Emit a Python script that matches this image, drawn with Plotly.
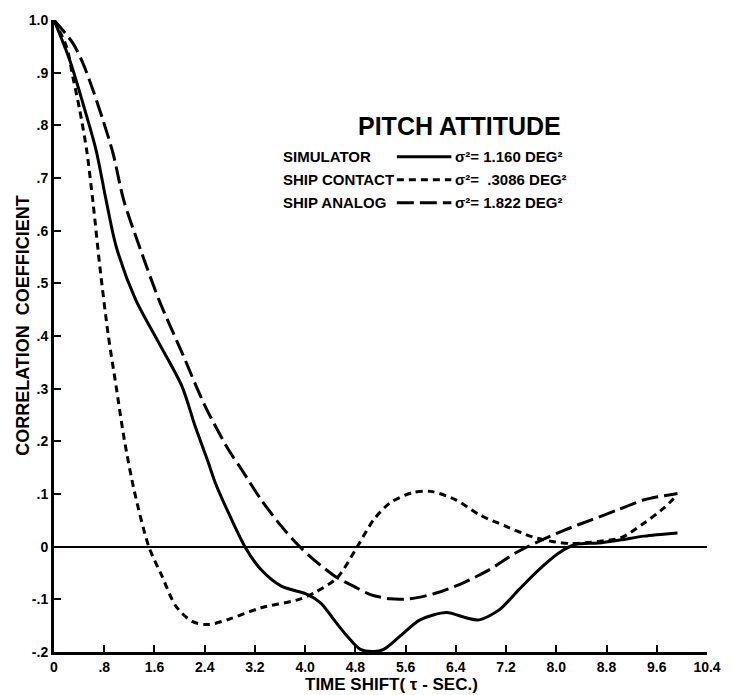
import plotly.graph_objects as go

# ---------------- data ----------------
sim_t = [0, 0.25, 0.46, 0.67, 0.83, 0.99, 1.30, 1.67, 2.04, 2.25, 2.46, 2.57, 2.78, 3.04,
         3.30, 3.62, 4.04, 4.25, 4.46, 4.67, 4.88, 5.09, 5.25, 5.51, 5.83, 6.25, 6.56,
         6.77, 7.09, 7.40, 7.72, 8.04, 8.30, 8.67, 9.03, 9.40, 9.93]
sim_r = [1.0, 0.924, 0.842, 0.753, 0.658, 0.57, 0.469, 0.387, 0.304, 0.228, 0.159, 0.121,
         0.064, 0.0, -0.044, -0.075, -0.091, -0.107, -0.139, -0.17, -0.195, -0.199, -0.195,
         -0.17, -0.139, -0.125, -0.135, -0.139, -0.12, -0.082, -0.044, -0.012, 0.004,
         0.007, 0.013, 0.02, 0.026]

con_t = [0, 0.20, 0.30, 0.41, 0.52, 0.62, 0.73, 0.86, 0.99, 1.12, 1.28, 1.51, 1.72, 1.94,
         2.2, 2.45, 2.78, 3.30, 3.88, 4.14, 4.51, 4.83, 5.09, 5.35, 5.72, 6.0, 6.40, 6.77,
         7.19, 7.61, 7.93, 8.24, 8.67, 9.03, 9.40, 9.72, 9.93]
con_r = [1.0, 0.949, 0.892, 0.829, 0.753, 0.655, 0.532, 0.405, 0.304, 0.203, 0.105, 0.0,
         -0.056, -0.113, -0.142, -0.148, -0.138, -0.116, -0.101, -0.088, -0.059, 0.0, 0.051,
         0.083, 0.103, 0.105, 0.089, 0.061, 0.039, 0.019, 0.01, 0.006, 0.010, 0.017, 0.045,
         0.074, 0.099]

ana_t = [0, 0.30, 0.46, 0.62, 0.78, 0.94, 1.11, 1.36, 1.67, 2.04, 2.41, 2.78, 2.99, 3.30,
         3.62, 3.88, 4.14, 4.51, 4.77, 5.04, 5.35, 5.67, 6.09, 6.51, 6.93, 7.35, 7.72, 8.14,
         8.56, 8.98, 9.40, 9.93]
ana_r = [1.0, 0.956, 0.918, 0.867, 0.81, 0.747, 0.658, 0.57, 0.469, 0.368, 0.266, 0.184,
         0.146, 0.089, 0.039, 0.004, -0.025, -0.059, -0.075, -0.091, -0.099, -0.099, -0.088,
         -0.069, -0.044, -0.012, 0.01, 0.032, 0.051, 0.07, 0.089, 0.101]

x_tick_vals = [0, 0.8, 1.6, 2.4, 3.2, 4.0, 4.8, 5.6, 6.4, 7.2, 8.0, 8.8, 9.6, 10.4]
x_tick_text = ["0", ".8", "1.6", "2.4", "3.2", "4.0", "4.8", "5.6", "6.4", "7.2", "8.0",
               "8.8", "9.6", "10.4"]
y_tick_vals = [1.0, 0.9, 0.8, 0.7, 0.6, 0.5, 0.4, 0.3, 0.2, 0.1, 0.0, -0.1, -0.2]
y_tick_text = ["1.0", ".9", ".8", ".7", ".6", ".5", ".4", ".3", ".2", ".1", "0", "-.1", "-.2"]

series_names = ["SIMULATOR", "SHIP CONTACT", "SHIP ANALOG"]
series_sigma = ["σ²= 1.160 DEG²", "σ²=  .3086 DEG²", "σ²= 1.822 DEG²"]

# ---------------- figure ----------------
FONT = "Liberation Sans"
W, H = 733, 695
ML, MR, MT, MB = 54, 20, 19, 43
PW, PH = W - ML - MR, H - MT - MB

dashes = ["solid", "7px,5px", "17px,6px"]
series = [(sim_t, sim_r), (con_t, con_r), (ana_t, ana_r)]

fig = go.Figure()
for (t, r), name, dash in zip(series, series_names, dashes):
    fig.add_trace(go.Scatter(
        x=t, y=r, mode="lines", name=name,
        line=dict(color="black", width=3, dash=dash, shape="spline", smoothing=0.8),
        showlegend=False))

fig.update_layout(
    width=W, height=H,
    margin=dict(l=ML, r=MR, t=MT, b=MB, pad=0),
    paper_bgcolor="white", plot_bgcolor="white",
    font=dict(family=FONT, color="black", size=14),
    xaxis=dict(range=[0, 10.4], tickvals=x_tick_vals, ticktext=[f"<b>{s}</b>" for s in x_tick_text],
               ticks="inside", ticklen=7, tickwidth=2, tickcolor="black",
               showline=True, linecolor="black", linewidth=2.5,
               showgrid=False, zeroline=False, tickfont=dict(size=14, family=FONT)),
    yaxis=dict(range=[-0.2, 1.0], tickvals=y_tick_vals, ticktext=[f"<b>{s}</b>" for s in y_tick_text],
               ticks="inside", ticklen=7, tickwidth=2, tickcolor="black",
               showline=True, linecolor="black", linewidth=3,
               showgrid=False, zeroline=True, zerolinecolor="black", zerolinewidth=1.5,
               tickfont=dict(size=14, family=FONT)),
)

def px_x(p):
    return (p - ML) / PW

def px_y(p):
    return (H - MB - p) / PH

ann = []
# axis titles
ann.append(dict(text="<b>TIME SHIFT( τ - SEC.)</b>", x=px_x(395), y=px_y(685),
                xref="paper", yref="paper", showarrow=False, font=dict(size=17, family=FONT),
                xanchor="center", yanchor="middle"))
ann.append(dict(text="<b>CORRELATION  COEFFICIENT</b>", x=px_x(22), y=px_y(325),
                xref="paper", yref="paper", showarrow=False, textangle=-90,
                font=dict(size=18, family=FONT), xanchor="center", yanchor="middle"))
# chart title
ann.append(dict(text="<b>PITCH ATTITUDE</b>", x=px_x(463), y=px_y(125),
                xref="paper", yref="paper", showarrow=False, font=dict(size=25, family=FONT),
                xanchor="center", yanchor="middle"))

rows_y = [156, 179, 202]
shapes = []
for yy, name, sig, dash in zip(rows_y, series_names, series_sigma, dashes):
    ann.append(dict(text=f"<b>{name}</b>", x=px_x(283), y=px_y(yy), xref="paper", yref="paper",
                    showarrow=False, xanchor="left", yanchor="middle",
                    font=dict(size=15, family=FONT)))
    ann.append(dict(text=f"<b>{sig}</b>", x=px_x(457), y=px_y(yy), xref="paper", yref="paper",
                    showarrow=False, xanchor="left", yanchor="middle",
                    font=dict(size=15, family=FONT)))
    shapes.append(dict(type="line", xref="paper", yref="paper",
                       x0=px_x(400), x1=px_x(455), y0=px_y(yy), y1=px_y(yy),
                       line=dict(color="black", width=3, dash=dash)))

fig.update_layout(annotations=ann, shapes=shapes)
fig.write_html("out.html", config={"displayModeBar": False},
               post_script="document.body.style.margin='0';")
